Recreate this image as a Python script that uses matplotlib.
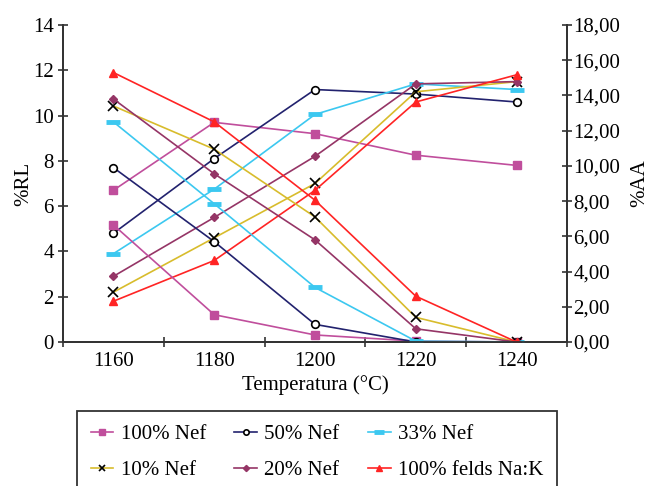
import matplotlib.pyplot as plt
from matplotlib.ticker import FuncFormatter, MultipleLocator

plt.rcParams['font.family'] = ['Liberation Serif', 'DejaVu Serif']
plt.rcParams['font.size'] = 15

temperaturas = [1160, 1180, 1200, 1220, 1240]

# retraccion lineal (%RL), eje izquierdo
rl_100nef = [6.7, 9.7, 9.2, 8.25, 7.8]
rl_50nef = [4.8, 8.1, 11.15, 10.95, 10.6]
rl_33nef = [3.9, 6.75, 10.05, 11.4, 11.15]
rl_10nef = [2.2, 4.6, 7.0, 11.05, 11.5]
rl_20nef = [2.9, 5.5, 8.2, 11.4, 11.5]
rl_felds = [1.8, 3.6, 6.7, 10.6, 11.8]

# absorcion de agua (%AA), eje derecho
aa_100nef = [6.65, 1.55, 0.4, 0.05, 0.0]
aa_50nef = [9.9, 5.7, 1.0, 0.0, 0.0]
aa_33nef = [12.5, 7.85, 3.1, 0.05, 0.0]
aa_10nef = [13.4, 10.95, 7.1, 1.4, 0.0]
aa_20nef = [13.8, 9.55, 5.8, 0.75, 0.0]
aa_felds = [15.3, 12.5, 8.05, 2.6, 0.0]

etiquetas = ['100% Nef', '50% Nef', '33% Nef', '10% Nef', '20% Nef', '100% felds Na:K']

estilos = [
    dict(color='#C04E9C', marker='s', ms=6, mfc='#C04E9C', mec='#C04E9C'),
    dict(color='#22226E', marker='o', ms=5.5, mfc='white', mec='black', mew=1.2),
    dict(color='#3CC8F0', marker='_', ms=10, mec='#3CC8F0', mew=3.5),
    dict(color='#D8BC2C', marker='x', ms=6.5, mec='black', mew=1.2),
    dict(color='#953566', marker='D', ms=4.5, mfc='#953566', mec='#953566'),
    dict(color='#FF2424', marker='^', ms=6, mfc='#FF2424', mec='#FF2424'),
]

series_rl = [rl_100nef, rl_50nef, rl_33nef, rl_10nef, rl_20nef, rl_felds]
series_aa = [aa_100nef, aa_50nef, aa_33nef, aa_10nef, aa_20nef, aa_felds]

fig = plt.figure(figsize=(6.49, 4.86), dpi=100)
ax = fig.add_axes([63 / 649, 1 - 342 / 486, (567 - 63) / 649, (342 - 25) / 486])
ax2 = ax.twinx()

x = list(range(len(temperaturas)))
lineas = []
for rl, aa, est, lab in zip(series_rl, series_aa, estilos, etiquetas):
    l, = ax.plot(x, rl, lw=1.2, label=lab, **est)
    ax2.plot(x, aa, lw=1.2, **est)
    lineas.append(l)

ax.set_xlim(-0.5, len(temperaturas) - 0.5)
ax.set_ylim(0, 14)
ax2.set_ylim(0, 18)
ax.set_xticks(x)
ax.set_xticklabels([str(t) for t in temperaturas])
ax.set_xticks([i - 0.5 for i in range(len(temperaturas) + 1)], minor=True)
ax.tick_params(axis='x', which='major', length=0, pad=7)
ax.tick_params(axis='x', which='minor', direction='inout', length=7, width=1.2, color='#333333')
ax.yaxis.set_major_locator(MultipleLocator(2))
ax2.yaxis.set_major_locator(MultipleLocator(2))
ax2.yaxis.set_major_formatter(FuncFormatter(lambda v, p: f'{v:.2f}'.replace('.', ',')))
ax.tick_params(axis='y', direction='inout', length=7, width=1.2, color='#333333', pad=3)
ax2.tick_params(axis='y', direction='inout', length=7, width=1.2, color='#333333', pad=1)

for a in (ax, ax2):
    a.spines['top'].set_visible(False)
    for s in ('left', 'right', 'bottom'):
        a.spines[s].set_linewidth(1.3)
        a.spines[s].set_color('#333333')

ax.set_xlabel('Temperatura (°C)', labelpad=3)
ax.set_ylabel('%RL', labelpad=0)
ax2.set_ylabel('%AA', labelpad=7)

orden = [0, 3, 1, 4, 2, 5]
leg = fig.legend([lineas[i] for i in orden], [etiquetas[i] for i in orden],
                 ncol=3, loc='upper left', bbox_to_anchor=(77 / 649, 1 - 411 / 486),
                 borderaxespad=0, fancybox=False, edgecolor='#333333', framealpha=1,
                 handlelength=1.1, handletextpad=0.35, columnspacing=1.35,
                 borderpad=0.65, labelspacing=0.8, markerscale=0.7)
leg.get_frame().set_linewidth(1.3)

fig.savefig('out.png', dpi=100)
